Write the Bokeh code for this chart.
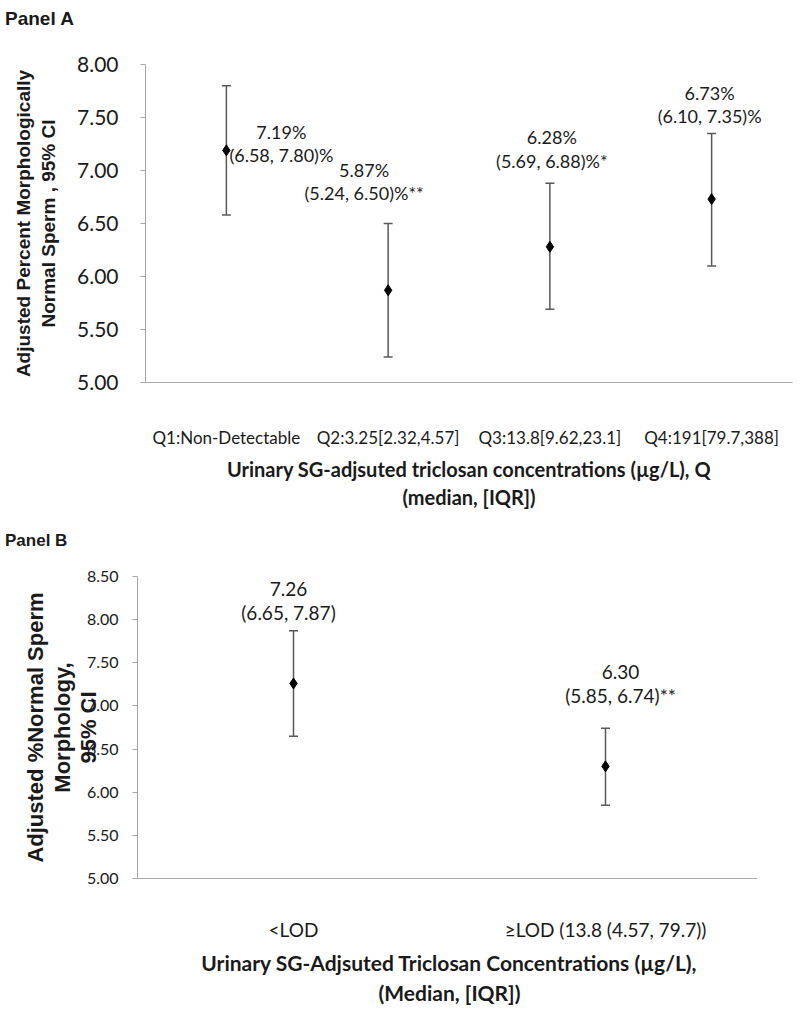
from bokeh.plotting import figure
from bokeh.models import Range1d, FactorRange, ColumnDataSource, Whisker, Div, FixedTicker, NumeralTickFormatter, TeeHead
from bokeh.layouts import column
from bokeh.embed import file_html
from bokeh.resources import INLINE
from bokeh.core.properties import value

# ---------------- data ----------------
a_cats = ["Q1:Non-Detectable", "Q2:3.25[2.32,4.57]", "Q3:13.8[9.62,23.1]", "Q4:191[79.7,388]"]
a_mean = [7.19, 5.87, 6.28, 6.73]
a_lower = [6.58, 5.24, 5.69, 6.10]
a_upper = [7.80, 6.50, 6.88, 7.35]
a_sig = ["", "**", "*", ""]
a_yticks = [5.00, 5.50, 6.00, 6.50, 7.00, 7.50, 8.00]

b_cats = ["<LOD", "\u2265LOD (13.8 (4.57, 79.7))"]
b_mean = [7.26, 6.30]
b_lower = [6.65, 5.85]
b_upper = [7.87, 6.74]
b_sig = ["", "**"]
b_yticks = [5.00, 5.50, 6.00, 6.50, 7.00, 7.50, 8.00, 8.50]

# ---------------- label placement (screen px, relative to upper CI) ----------------
a_lab_dx = [55, -24, 2, -2]
a_lab_dy = [58, -42, -34, -29]
b_lab_dx = [-5, 15]
b_lab_dy = [-30, -45]

AX = "#a6a6a6"
TXT = "#1a1a1a"
NUM_FONT = "Lato"
BOLD_FONT = "Liberation Sans"


def make_panel(cats, mean, lower, upper, sig, yticks, pct, dx, dy,
               frame_w, frame_h, border_left, border_top, ylabel, xlabel,
               ytick_size, ylab_size, ylab_lh, xtick_size, xlab_size, ann_size, ann_lh,
               xtick_standoff, ytick_standoff, ylab_standoff, xlab_standoff):
    suffix = "%" if pct else ""
    labels = [f"{m:.2f}{suffix}\n({lo:.2f}, {hi:.2f}){suffix}{s}"
              for m, lo, hi, s in zip(mean, lower, upper, sig)]
    src = ColumnDataSource(dict(x=cats, mean=mean, lower=lower, upper=upper,
                                label=labels, dx=dx, dy=dy))
    p = figure(x_range=FactorRange(factors=cats),
               y_range=Range1d(yticks[0], yticks[-1]),
               frame_width=frame_w, frame_height=frame_h,
               output_backend="svg", toolbar_location=None,
               min_border_left=border_left, min_border_right=4,
               min_border_top=border_top, min_border_bottom=0)
    p.outline_line_color = None
    p.xgrid.grid_line_color = None
    p.ygrid.grid_line_color = None
    p.background_fill_color = "white"

    w = Whisker(source=src, base="x", upper="upper", lower="lower",
                dimension="height", line_color="#595959", line_width=1.5)
    w.upper_head = TeeHead(size=9, line_color="#595959", line_width=1.5)
    w.lower_head = TeeHead(size=9, line_color="#595959", line_width=1.5)
    p.add_layout(w)
    p.scatter("x", "mean", source=src, marker="diamond", size=11,
              fill_color="black", line_color="black")
    p.text("x", "upper", text="label", source=src, x_offset="dx", y_offset="dy",
           text_align="center", text_baseline="middle",
           text_font=value(NUM_FONT), text_font_size=ann_size,
           text_color=TXT, text_line_height=ann_lh)

    # y axis
    p.yaxis.ticker = FixedTicker(ticks=yticks)
    p.yaxis.formatter = NumeralTickFormatter(format="0.00")
    p.yaxis.minor_tick_line_color = None
    p.yaxis.major_tick_in = 0
    p.yaxis.major_tick_out = 5
    p.yaxis.major_tick_line_color = AX
    p.yaxis.axis_line_color = AX
    p.yaxis.major_label_text_font = NUM_FONT
    p.yaxis.major_label_text_font_size = ytick_size
    p.yaxis.major_label_text_color = TXT
    p.yaxis.major_label_standoff = ytick_standoff
    p.yaxis.axis_label = ylabel
    p.yaxis.axis_label_text_font = BOLD_FONT
    p.yaxis.axis_label_text_font_style = "bold"
    p.yaxis.axis_label_text_font_size = ylab_size
    p.yaxis.axis_label_text_line_height = ylab_lh
    p.yaxis.axis_label_text_color = TXT
    p.yaxis.axis_label_standoff = ylab_standoff

    # x axis
    p.xaxis.axis_line_color = AX
    p.xaxis.major_tick_line_color = None
    p.xaxis.minor_tick_line_color = None
    p.xaxis.major_label_text_font = NUM_FONT
    p.xaxis.major_label_text_font_size = xtick_size
    p.xaxis.major_label_text_color = TXT
    p.xaxis.major_label_standoff = xtick_standoff
    p.xaxis.axis_label = xlabel
    p.xaxis.axis_label_text_font = NUM_FONT
    p.xaxis.axis_label_text_font_style = "bold"
    p.xaxis.axis_label_text_font_size = xlab_size
    p.xaxis.axis_label_text_color = TXT
    p.xaxis.axis_label_standoff = xlab_standoff
    return p


pa = make_panel(a_cats, a_mean, a_lower, a_upper, a_sig, a_yticks, True,
                a_lab_dx, a_lab_dy, 647, 318, 145, 24,
                "Adjusted Percent Morphologically\nNormal Sperm , 95% CI",
                "Urinary SG-adjsuted triclosan concentrations (\u00b5g/L), Q\n(median, [IQR])",
                "21px", "19px", 1.2, "17px", "20px", "18px", 1.07,
                38, 22, 15, 6)

pb = make_panel(b_cats, b_mean, b_lower, b_upper, b_sig, b_yticks, False,
                b_lab_dx, b_lab_dy, 624, 302, 137, 18,
                "Adjusted %Normal Sperm\nMorphology,\n95% CI",
                "Urinary SG-Adjsuted Triclosan Concentrations (\u00b5g/L),\n(Median, [IQR])",
                "16px", "22px", 1.05, "19px", "21px", "19px", 1.05,
                33, 14, -17, 6)
pb.margin = (0, 0, 0, -8)

div_style = {"font-family": "Liberation Sans, Arial", "font-weight": "bold",
             "color": "#1a1a1a"}
da = Div(text="Panel A", width=300, height=30,
         styles=dict(div_style, **{"font-size": "19px"}))
db = Div(text="Panel B", width=300, height=36,
         styles=dict(div_style, **{"font-size": "17px", "padding-top": "12px"}))

layout = column(da, pa, db, pb, spacing=0)
open("out.html", "w").write(file_html(layout, INLINE))
